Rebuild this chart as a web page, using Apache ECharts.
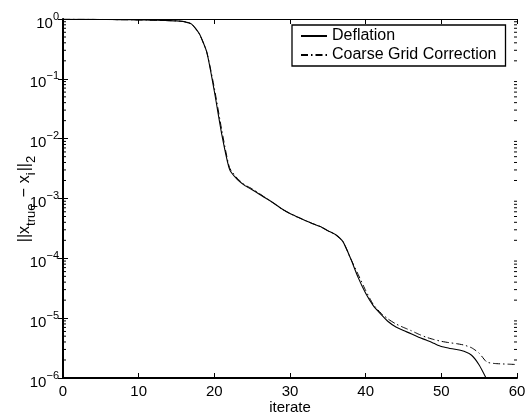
<!DOCTYPE html>
<html>
<head>
<meta charset="utf-8">
<script src="https://cdn.jsdelivr.net/npm/echarts@6/dist/echarts.min.js"></script>
<style>html,body{margin:0;padding:0;background:#fff;}#c{width:526px;height:416px;}</style>
</head>
<body>
<div id="c"></div>
<script>
const iterDefl = [0,1,2,3,4,5,6,7,8,9,10,11,12,13,14,15,16,17,18,19,20,21,22,23,24,25,26,27,28,29,30,31,32,33,34,35,36,37,38,39,40,41,42,43,44,45,46,47,48,49,50,51,52,53,54,55,56];
const deflation = [0.99,0.99,0.988,0.986,0.984,0.982,0.98,0.977,0.973,0.97,0.965,0.96,0.954,0.947,0.94,0.93,0.905,0.82,0.57,0.28,0.062,0.0115,0.0031,0.0021,0.00166,0.0014,0.00117,9.8e-4,8.1e-4,6.6e-4,5.6e-4,4.9e-4,4.3e-4,3.8e-4,3.4e-4,2.9e-4,2.5e-4,1.9e-4,1.0e-4,4.8e-5,2.6e-5,1.62e-5,1.17e-5,8.7e-6,7.1e-6,6.2e-6,5.5e-6,4.8e-6,4.3e-6,3.8e-6,3.35e-6,3.15e-6,3.0e-6,2.8e-6,2.4e-6,1.65e-6,9.5e-7];
const iterCgc = [0,1,2,3,4,5,6,7,8,9,10,11,12,13,14,15,16,17,18,19,20,21,22,23,24,25,26,27,28,29,30,31,32,33,34,35,36,37,38,39,40,41,42,43,44,45,46,47,48,49,50,51,52,53,54,55,56,57,58,59,60];
const cgc = [0.99,0.99,0.988,0.986,0.984,0.982,0.98,0.977,0.973,0.97,0.965,0.96,0.954,0.947,0.94,0.93,0.905,0.82,0.57,0.28,0.07,0.0135,0.0033,0.0022,0.0017,0.00145,0.0012,9.8e-4,8.1e-4,6.6e-4,5.6e-4,4.9e-4,4.3e-4,3.8e-4,3.4e-4,2.9e-4,2.5e-4,1.9e-4,1.0e-4,5.4e-5,2.9e-5,1.7e-5,1.22e-5,9.6e-6,8.0e-6,7.0e-6,6.2e-6,5.4e-6,4.8e-6,4.4e-6,4.1e-6,3.9e-6,3.75e-6,3.55e-6,3.2e-6,2.6e-6,1.85e-6,1.75e-6,1.72e-6,1.7e-6,1.68e-6];
const seriesNames = ['Deflation', 'Coarse Grid Correction'];
const xTicks = [0,10,20,30,40,50,60];
const minorTicks = [];
for (let e = -6; e < 0; e++) { for (let m = 2; m <= 9; m++) { minorTicks.push(m * Math.pow(10, e)); } }

const FONT = 'Liberation Sans, Arial, Helvetica, sans-serif';
const chart = echarts.init(document.getElementById('c'), null, {renderer: 'canvas'});
function supLabel(v) {
  const e = Math.round(Math.log10(v));
  const s = e < 0 ? '\u2212' + (-e) : String(e);
  return '{b|10}{s|' + s + '}';
}
const option = {
  animation: false,
  backgroundColor: '#fff',
  textStyle: {fontFamily: FONT},
  grid: {left: 63, right: 9, top: 19, bottom: 38, containLabel: false, outerBoundsMode: 'none'},
  legend: {
    data: seriesNames,
    left: 292, top: 25,
    orient: 'vertical',
    backgroundColor: '#fff',
    borderColor: '#000', borderWidth: 1.3, borderRadius: 0,
    padding: [3, 9, 3, 8],
    itemGap: 3, itemWidth: 26, itemHeight: 14, itemTextGap: 12,
    textStyle: {fontSize: 16, color: '#000', fontFamily: FONT}
  },
  xAxis: [{
    type: 'value', min: 0, max: 60, interval: 10, position: 'bottom',
    name: 'iterate', nameLocation: 'middle', nameGap: 22, nameMoveOverlap: false,
    nameTextStyle: {fontSize: 15, color: '#000', fontFamily: FONT},
    axisLine: {show: true, lineStyle: {color: '#000', width: 2}},
    axisTick: {show: true, inside: true, length: 5, lineStyle: {color: '#000', width: 1}},
    axisLabel: {show: true, margin: 6, fontSize: 15, color: '#000', fontFamily: FONT,
      formatter: v => xTicks.indexOf(v) >= 0 ? String(v) : ''},
    splitLine: {show: false}
  }, {
    type: 'value', min: 0, max: 60, interval: 10, position: 'top',
    axisLine: {show: true, lineStyle: {color: '#000', width: 1}},
    axisTick: {show: true, inside: true, length: 5, lineStyle: {color: '#000', width: 1}},
    axisLabel: {show: false}, splitLine: {show: false}
  }],
  yAxis: [{
    type: 'log', logBase: 10, min: 1e-6, max: 1, interval: 1, position: 'left',
    name: '{b|||x}{s|true}{m|\u2212}{b|x}{s|i}{b|||}{s|2}',
    nameLocation: 'middle', nameGap: 30, nameRotate: 90, nameMoveOverlap: false,
    nameTextStyle: {color: '#000', fontFamily: FONT,
      rich: {
        b: {fontSize: 16, lineHeight: 16, verticalAlign: 'top', color: '#000', fontFamily: FONT},
        m: {fontSize: 16, lineHeight: 16, padding: [0, 5, 0, 5], verticalAlign: 'top', color: '#000', fontFamily: FONT},
        s: {fontSize: 13, lineHeight: 13, padding: [8, 1, 0, 0], verticalAlign: 'top', color: '#000', fontFamily: FONT}
      }},
    axisLine: {show: true, lineStyle: {color: '#000', width: 2}},
    axisTick: {show: true, inside: true, length: 5, lineStyle: {color: '#000', width: 1}},
    axisLabel: {show: true, margin: 4, color: '#000', formatter: supLabel,
      rich: {
        b: {fontSize: 15, lineHeight: 16, padding: [5, 0, 0, 0], verticalAlign: 'top', color: '#000', fontFamily: FONT},
        s: {fontSize: 11, lineHeight: 12, verticalAlign: 'top', color: '#000', fontFamily: FONT}
      }},
    splitLine: {show: false}
  }, {
    type: 'log', logBase: 10, min: 1e-6, max: 1, interval: 1, position: 'right',
    axisLine: {show: true, lineStyle: {color: '#000', width: 1}},
    axisTick: {show: true, inside: true, length: 5, lineStyle: {color: '#000', width: 1}},
    axisLabel: {show: false}, splitLine: {show: false}
  }],
  series: [{
    name: seriesNames[0], type: 'line', xAxisIndex: 0, yAxisIndex: 0,
    data: iterDefl.map((x, i) => [x, deflation[i]]),
    symbol: 'none', showSymbol: false, smooth: 0.2, clip: true,
    lineStyle: {color: '#000', width: 1.1, type: 'solid'},
    itemStyle: {color: 'rgba(0,0,0,0)'}, z: 3
  }, {
    name: seriesNames[1], type: 'line', xAxisIndex: 0, yAxisIndex: 0,
    data: iterCgc.map((x, i) => [x, cgc[i]]),
    symbol: 'none', showSymbol: false, smooth: 0.2, clip: true,
    lineStyle: {color: '#000', width: 1, type: [7, 3, 1.5, 3]},
    itemStyle: {color: 'rgba(0,0,0,0)'}, z: 3
  }, {
    name: 'minor', type: 'custom', coordinateSystem: 'cartesian2d', xAxisIndex: 0, yAxisIndex: 0,
    data: minorTicks.map(v => [0, v]), silent: true, clip: false, z: 4,
    renderItem: function (params, api) {
      const v = api.value(1);
      const p = api.coord([0, v]);
      const cs = params.coordSys;
      const x0 = cs.x, x1 = cs.x + cs.width;
      return {type: 'group', children: [
        {type: 'line', shape: {x1: x0, y1: p[1], x2: x0 + 3, y2: p[1]}, style: {stroke: '#000', lineWidth: 1}},
        {type: 'line', shape: {x1: x1, y1: p[1], x2: x1 - 3, y2: p[1]}, style: {stroke: '#000', lineWidth: 1}}
      ]};
    }
  }]
};
chart.setOption(option);
</script>
</body>
</html>
